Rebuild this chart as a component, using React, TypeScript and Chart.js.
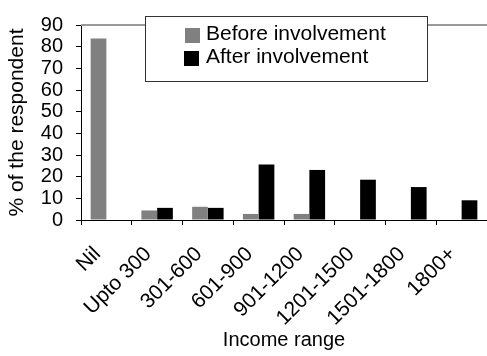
import React, { useEffect, useRef } from "react";
import { Chart, registerables } from "chart.js";

Chart.register(...registerables);

const incomeRanges = ["Nil", "Upto 300", "301-600", "601-900", "901-1200", "1201-1500", "1501-1800", "1800+"];
const beforeInvolvement = [83.8, 4.4, 6.1, 2.8, 2.8, 0, 0, 0];
const afterInvolvement = [0, 5.6, 5.6, 25.6, 23.1, 18.6, 15.2, 9.1];
const seriesNames = ["Before involvement", "After involvement"];
const seriesColors = ["#808080", "#000000"];

const FONT = "'Liberation Sans', Arial, sans-serif";

// Gray frame line along the top of the plot area
const plotFrame = {
  id: "plotFrame",
  afterDatasetsDraw(chart: any) {
    const { ctx, chartArea } = chart;
    ctx.save();
    ctx.strokeStyle = "#9a9a9a";
    ctx.lineWidth = 2;
    ctx.beginPath();
    ctx.moveTo(chartArea.left, chartArea.top);
    ctx.lineTo(chartArea.right + 10, chartArea.top);
    ctx.stroke();
    ctx.restore();
  },
};

// Boxed legend placed inside the plot area
const boxedLegend = {
  id: "boxedLegend",
  afterDraw(chart: any) {
    const { ctx } = chart;
    const box = { x: 145.5, y: 16.5, w: 282, h: 65 };
    ctx.save();
    ctx.fillStyle = "#ffffff";
    ctx.fillRect(box.x, box.y, box.w, box.h);
    ctx.strokeStyle = "#333333";
    ctx.lineWidth = 1;
    ctx.strokeRect(box.x, box.y, box.w, box.h);
    ctx.font = `21px ${FONT}`;
    ctx.textBaseline = "alphabetic";
    ctx.textAlign = "left";
    chart.data.datasets.forEach((ds: any, i: number) => {
      const baseline = 40 + i * 23;
      ctx.fillStyle = ds.backgroundColor;
      ctx.fillRect(185 - i, baseline - 12, 15, 15);
      ctx.fillStyle = "#000000";
      ctx.fillText(ds.label, 206, baseline);
    });
    ctx.restore();
  },
};

export default function App() {
  const canvasRef = useRef<HTMLCanvasElement | null>(null);

  useEffect(() => {
    if (!canvasRef.current) return;
    const chart = new Chart(canvasRef.current, {
      type: "bar",
      data: {
        labels: incomeRanges,
        datasets: [
          { label: seriesNames[0], data: beforeInvolvement, backgroundColor: seriesColors[0], borderWidth: 0 },
          { label: seriesNames[1], data: afterInvolvement, backgroundColor: seriesColors[1], borderWidth: 0 },
        ],
      },
      options: {
        responsive: false,
        animation: false,
        layout: { padding: { top: 15, right: 0, bottom: 0, left: 0 } },
        plugins: {
          legend: { display: false },
          tooltip: { enabled: false },
        },
        datasets: {
          bar: { categoryPercentage: 0.62, barPercentage: 1 },
        },
        scales: {
          x: {
            afterFit(scale: any) {
              scale.height = 136;
              scale.paddingLeft = 0;
              scale.paddingRight = 0;
            },
            grid: {
              offset: true,
              drawOnChartArea: false,
              drawTicks: true,
              tickLength: 5,
              color: "#000000",
            },
            border: { display: true, color: "#000000", width: 1 },
            ticks: {
              autoSkip: false,
              minRotation: 45,
              maxRotation: 45,
              padding: 17,
              labelOffset: -9,
              color: "#000000",
              font: { family: FONT, size: 21 },
            },
            title: {
              display: true,
              text: "Income range",
              color: "#000000",
              font: { family: FONT, size: 20 },
              padding: { top: 4, bottom: 4 },
            },
          },
          y: {
            min: 0,
            max: 90,
            afterFit(scale: any) {
              scale.width = 81;
            },
            grid: {
              drawOnChartArea: false,
              drawTicks: true,
              tickLength: 5,
              color: "#000000",
            },
            border: { display: true, color: "#000000", width: 1 },
            ticks: {
              stepSize: 10,
              autoSkip: false,
              padding: 13,
              color: "#000000",
              font: { family: FONT, size: 20 },
            },
            title: {
              display: true,
              text: "% of the respondent",
              color: "#000000",
              font: { family: FONT, size: 21 },
              padding: { top: 5, bottom: 4 },
            },
          },
        },
      },
      plugins: [plotFrame, boxedLegend],
    });
    return () => chart.destroy();
  }, []);

  return (
    <div style={{ position: "fixed", left: 0, top: 0, width: 487, height: 356, overflow: "hidden", background: "#ffffff" }}>
      <canvas ref={canvasRef} width={487} height={356} style={{ display: "block" }} />
    </div>
  );
}
